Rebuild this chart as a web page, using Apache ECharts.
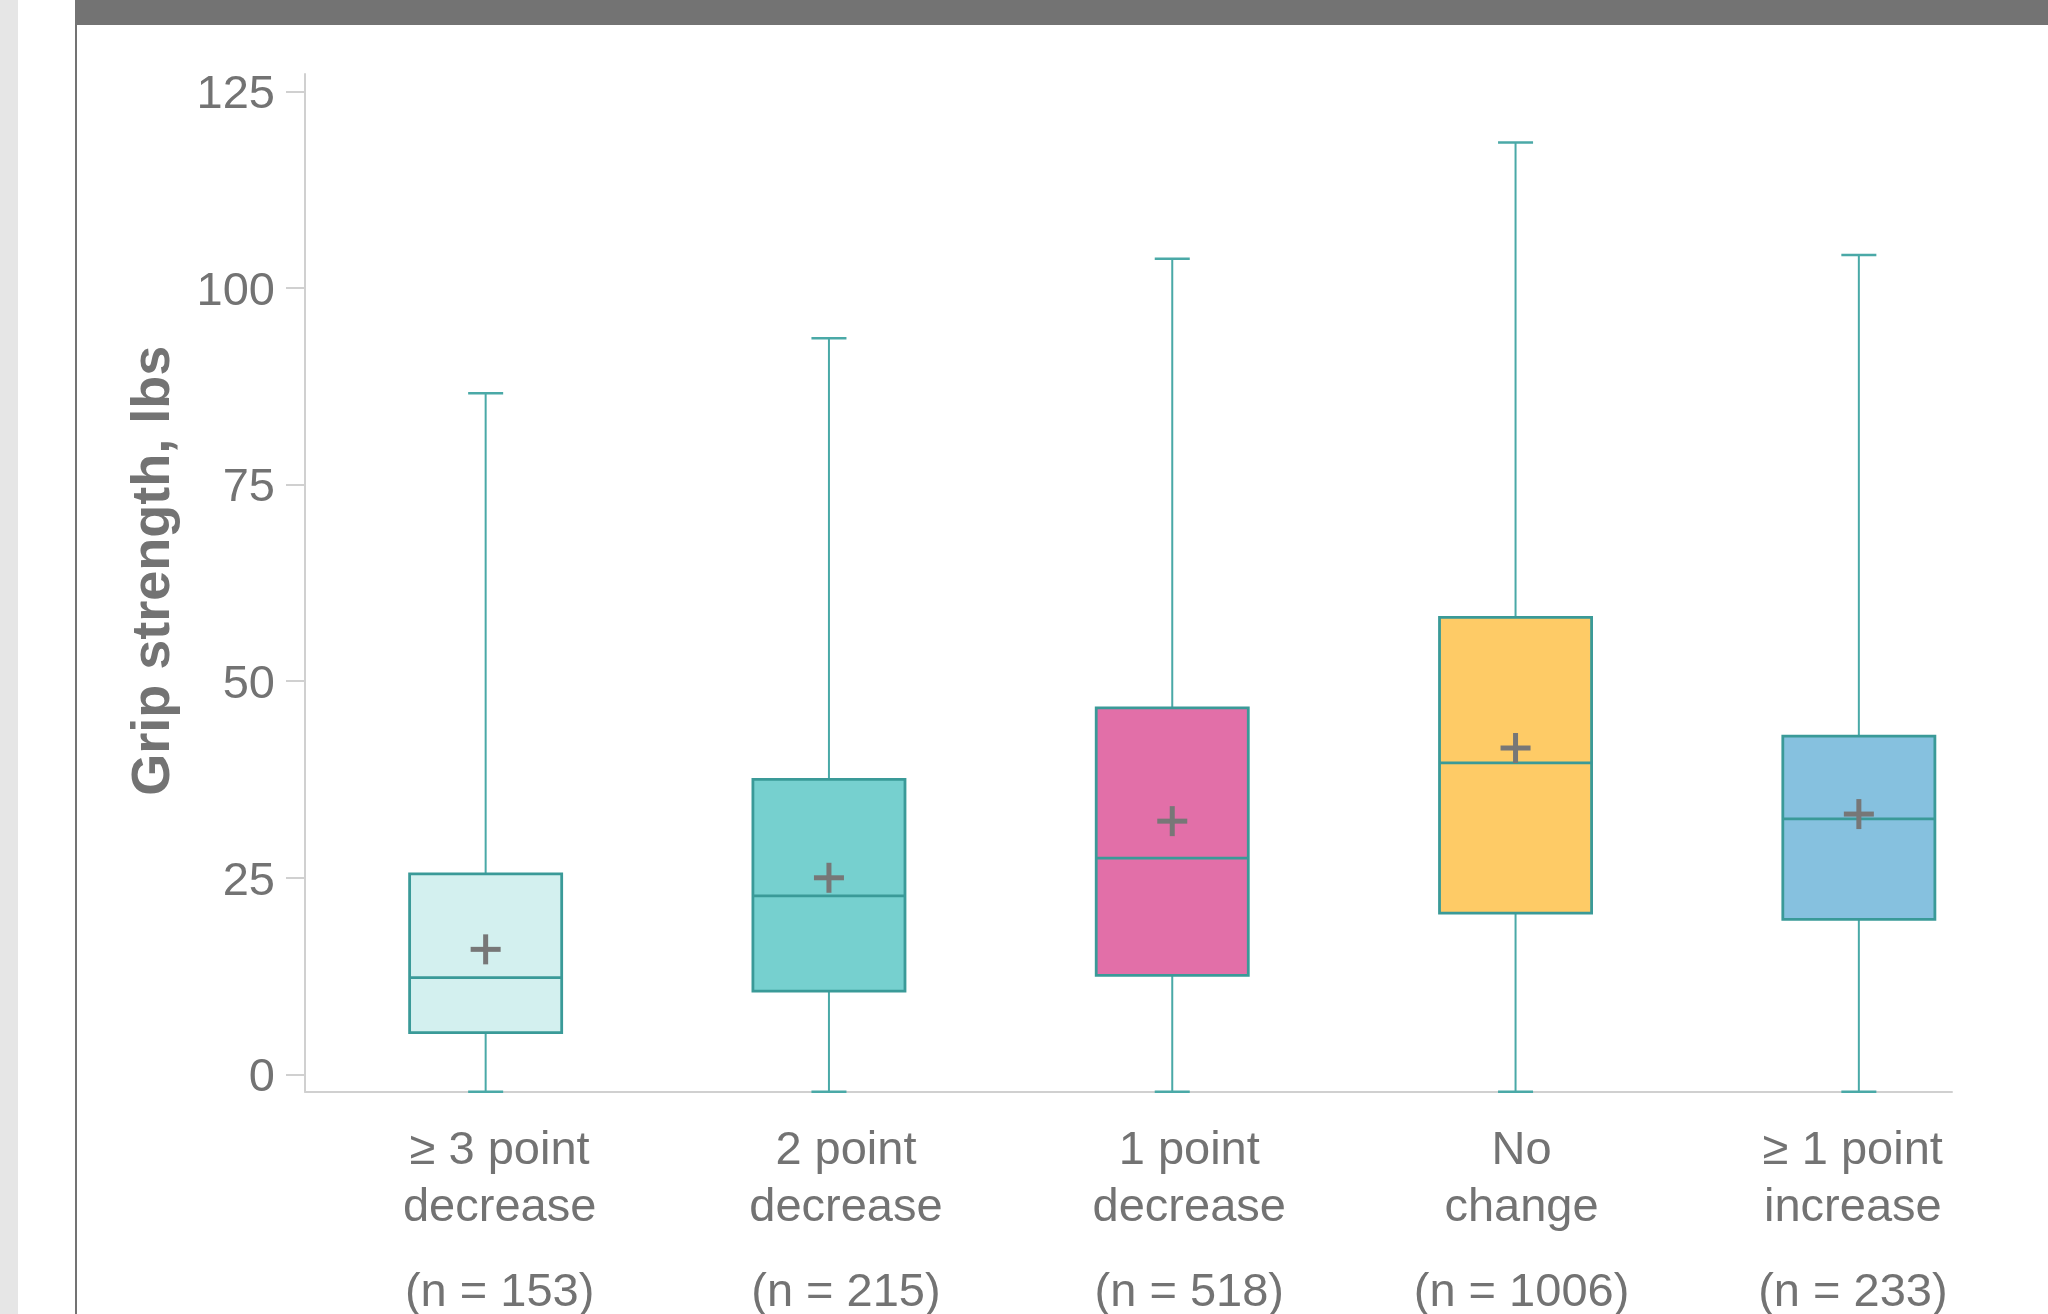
<!DOCTYPE html>
<html>
<head>
<meta charset="utf-8">
<title>Grip strength by change group</title>
<script src="https://cdn.jsdelivr.net/npm/echarts@6/dist/echarts.min.js"></script>
<style>
  html, body { margin: 0; padding: 0; background: #ffffff; }
  #chart { width: 2048px; height: 1314px; }
</style>
</head>
<body>
<div id="chart"></div>
<script>
// Group labels (two lines each) and group sizes
const groupLine1 = ['≥ 3 point', '2 point', '1 point', 'No', '≥ 1 point'];
const groupLine2 = ['decrease', 'decrease', 'decrease', 'change', 'increase'];
const groupN = [153, 215, 518, 1006, 233];

// Box statistics, grip strength in lbs
const whiskerLow = [-2.2, -2.2, -2.2, -2.2, -2.2];
const quartile1 = [5.3, 10.6, 12.6, 20.5, 19.7];
const medians = [12.3, 22.7, 27.5, 39.6, 32.5];
const quartile3 = [25.5, 37.5, 46.6, 58.1, 43.0];
const whiskerHigh = [86.6, 93.6, 103.7, 118.5, 104.2];
const means = [15.9, 25.0, 32.2, 41.5, 33.1];

// Y axis tick labels
const yTicks = [0, 25, 50, 75, 100, 125];

const boxFills = ['#d3f0ef', '#76d0cf', '#e26fa8', '#fecb66', '#86c1df'];
const edgeColor = '#3a9a98';
const whiskerColor = '#4aa9a7';
const textColor = '#737373';
const axisColor = '#d0d0d0';
const FONT = '"Liberation Sans", Arial, sans-serif';

// horizontal nudge (px) of each category label block
const labelNudge = [14, 17, 17, 6, -6];

const Y_MIN = -2.2, Y_MAX = 127.2;

const categories = groupLine1.map((_, i) => i);
const boxData = groupLine1.map((_, i) => [
  i, whiskerLow[i], quartile1[i], medians[i], quartile3[i], whiskerHigh[i], means[i]
]);

function renderBox(params, api) {
  const i = api.value(0);
  const band = api.size([1, 0])[0];
  const boxW = band * 0.443;
  const capW = band * 0.102;
  const pLow = api.coord([i, api.value(1)]);
  const pQ1 = api.coord([i, api.value(2)]);
  const pMed = api.coord([i, api.value(3)]);
  const pQ3 = api.coord([i, api.value(4)]);
  const pHigh = api.coord([i, api.value(5)]);
  const pMean = api.coord([i, api.value(6)]);
  const cx = pMed[0];
  const plus = 30, thick = 5;
  return {
    type: 'group',
    children: [
      { type: 'line', shape: { x1: cx, y1: pQ3[1], x2: cx, y2: pHigh[1] },
        style: { stroke: whiskerColor, lineWidth: 2 } },
      { type: 'line', shape: { x1: cx, y1: pQ1[1], x2: cx, y2: pLow[1] },
        style: { stroke: whiskerColor, lineWidth: 2 } },
      { type: 'line', shape: { x1: cx - capW / 2, y1: pHigh[1], x2: cx + capW / 2, y2: pHigh[1] },
        style: { stroke: whiskerColor, lineWidth: 2.5 } },
      { type: 'line', shape: { x1: cx - capW / 2, y1: pLow[1], x2: cx + capW / 2, y2: pLow[1] },
        style: { stroke: whiskerColor, lineWidth: 2.5 } },
      { type: 'rect', shape: { x: cx - boxW / 2, y: pQ3[1], width: boxW, height: pQ1[1] - pQ3[1] },
        style: { fill: boxFills[i], stroke: edgeColor, lineWidth: 2.8 } },
      { type: 'line', shape: { x1: cx - boxW / 2, y1: pMed[1], x2: cx + boxW / 2, y2: pMed[1] },
        style: { stroke: edgeColor, lineWidth: 2.8 } },
      { type: 'rect', shape: { x: cx - plus / 2, y: pMean[1] - thick / 2, width: plus, height: thick },
        style: { fill: '#777777' } },
      { type: 'rect', shape: { x: cx - thick / 2, y: pMean[1] - plus / 2, width: thick, height: plus },
        style: { fill: '#777777' } }
    ]
  };
}

// one rich style per category so each label block can be nudged sideways
const labelRich = {};
labelNudge.forEach((s, i) => {
  const pad = s >= 0 ? [0, 0, 0, 2 * s] : [0, -2 * s, 0, 0];
  labelRich['a' + i] = { fontSize: 47, lineHeight: 57, color: textColor, fontFamily: FONT, align: 'center', padding: pad };
  labelRich['b' + i] = { fontSize: 47, lineHeight: 113, color: textColor, fontFamily: FONT, align: 'center', padding: pad };
});

const chart = echarts.init(document.getElementById('chart'), null, { renderer: 'canvas' });

chart.setOption({
  animation: false,
  backgroundColor: '#ffffff',
  graphic: [
    { type: 'rect', left: 0, top: 0, shape: { width: 18, height: 1314 }, style: { fill: '#e6e6e6' }, silent: true },
    { type: 'rect', left: 75, top: 0, shape: { width: 2, height: 1314 }, style: { fill: '#737373' }, silent: true },
    { type: 'rect', left: 75, top: 0, shape: { width: 1973, height: 25 }, style: { fill: '#737373' }, silent: true }
  ],
  grid: [
    { left: 314, top: 74, width: 1716.5, bottom: 222.3, containLabel: false, outerBoundsMode: 'none' },
    { left: 305, top: 74, right: 96, bottom: 222.3, containLabel: false, outerBoundsMode: 'none' }
  ],
  xAxis: [
    {
      type: 'category', gridIndex: 0, data: categories, boundaryGap: true,
      axisLine: { show: false }, axisTick: { show: false }, splitLine: { show: false },
      axisLabel: {
        interval: 0, margin: 31, color: textColor, fontFamily: FONT,
        formatter: (v) => {
          const k = Number(v);
          return '{a' + k + '|' + groupLine1[k] + '}\n{a' + k + '|' + groupLine2[k] + '}\n{b' + k + '|(n = ' + groupN[k] + ')}';
        },
        rich: labelRich
      }
    },
    {
      type: 'value', gridIndex: 1, min: 0, max: 1,
      axisLine: { show: true, onZero: false, lineStyle: { color: axisColor, width: 2 } },
      axisTick: { show: false }, axisLabel: { show: false }, splitLine: { show: false }
    }
  ],
  yAxis: [
    {
      type: 'value', gridIndex: 0, min: Y_MIN, max: Y_MAX,
      axisLine: { show: false }, axisTick: { show: false }, axisLabel: { show: false }, splitLine: { show: false }
    },
    {
      type: 'value', gridIndex: 1, min: Y_MIN, max: Y_MAX,
      axisLine: { show: true, onZero: false, lineStyle: { color: axisColor, width: 2 } },
      axisTick: { show: true, length: 19, customValues: yTicks, lineStyle: { color: axisColor, width: 2 } },
      axisLabel: {
        show: true, customValues: yTicks, margin: 30,
        formatter: (v) => '{t|' + v + '}',
        rich: { t: { fontSize: 47, fontFamily: FONT, color: textColor, padding: [8, 0, 0, 0] } }
      },
      splitLine: { show: false },
      name: 'Grip strength, lbs',
      nameLocation: 'middle', nameRotate: 90, nameGap: 124,
      nameTextStyle: { color: textColor, fontSize: 54, fontWeight: 'bold', fontFamily: FONT, padding: [0, 0, 0, 24] }
    }
  ],
  series: [
    {
      type: 'custom',
      xAxisIndex: 0, yAxisIndex: 0,
      renderItem: renderBox,
      encode: { x: 0, y: [1, 2, 3, 4, 5, 6] },
      data: boxData,
      clip: false
    }
  ]
});
</script>
</body>
</html>
